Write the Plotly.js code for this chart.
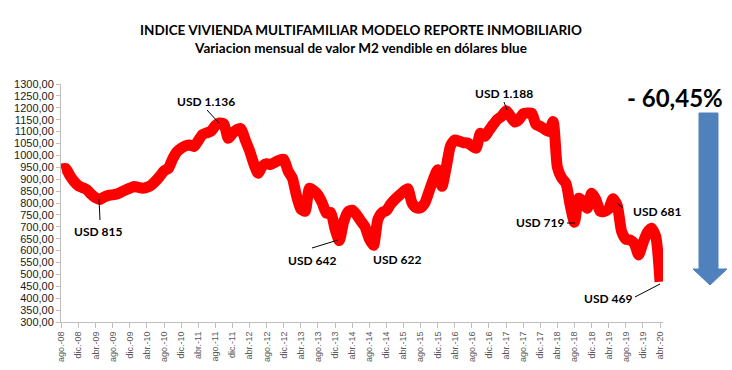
<!DOCTYPE html>
<html>
<head>
<meta charset="utf-8">
<script src="https://cdn.plot.ly/plotly-3.0.1.min.js"></script>
<style>
  html, body { margin: 0; padding: 0; background: #ffffff; }
  #chart { width: 732px; height: 370px; }
</style>
</head>
<body>
<div id="chart"></div>
<script>
// ---- data ----
const monthNames = ['ene.', 'feb.', 'mar.', 'abr.', 'may.', 'jun.', 'jul.', 'ago.', 'sep.', 'oct.', 'nov.', 'dic.'];
const startMonth = 7;   // ago.
const startYear = 2008;

// monthly value of M2 (USD blue), ago-08 .. abr-20
const values = [
  943, 945, 915, 890, 872, 864, 855, 836, 822, 815,
  825, 832, 834, 838, 846, 855, 862, 869, 866, 862,
  866, 875, 892, 912, 935, 945, 985, 1015, 1030, 1040,
  1044, 1037, 1062, 1088, 1095, 1102, 1125, 1136, 1132, 1072,
  1092, 1108, 1112, 1065, 1020, 965, 925, 955, 965, 962,
  972, 980, 984, 935, 905, 830, 775, 765, 862, 852,
  834, 800, 757, 760, 690, 642, 720, 763, 770, 752,
  725, 700, 650, 622, 730, 760, 768, 795, 815, 832,
  848, 860, 800, 780, 780, 800, 850, 900, 940, 870,
  950, 1040, 1065, 1060, 1054, 1052, 1040, 1030, 1093, 1080,
  1105, 1130, 1152, 1165, 1188, 1165, 1140, 1150, 1175, 1178,
  1177, 1130, 1122, 1110, 1100, 1142, 950, 905, 883, 790,
  719, 820, 806, 778, 841, 815, 765, 765, 775, 818,
  790, 681, 648, 645, 630, 582, 631, 675, 694, 660,
  469
];

const months = [];
for (let i = 0; i < values.length; i++) {
  const m = (startMonth + i) % 12;
  const y = startYear + Math.floor((startMonth + i) / 12);
  months.push(monthNames[m] + '-' + String(y % 100).padStart(2, '0'));
}
const tickLabels = months.filter((_, i) => i % 4 === 0);

const titleLine1 = 'INDICE VIVIENDA MULTIFAMILIAR MODELO REPORTE INMOBILIARIO';
const titleLine2 = 'Variacion mensual de valor M2 vendible en dólares blue';
const labelTexts = ['USD 1.136', 'USD 815', 'USD 642', 'USD 622', 'USD 1.188', 'USD 719', 'USD 681', 'USD 469'];
const changeText = '- 60,45%';

// ---- layout geometry (pixels) ----
const W = 732, H = 370;
const L = 61, R = 69, T = 84, B = 48;
const PW = W - L - R, PH = H - T - B;
const px = x => (x - L) / PW;
const py = y => (H - B - y) / PH;

const labelPos = [
  [206, 101], [98, 231], [312, 260], [397, 259],
  [504, 93], [540, 223], [657, 211], [608, 298]
];
const pointerLines = [
  [207, 110, 219, 123],
  [100, 220, 99, 199],
  [312, 248, 338, 240],
  null,
  [504, 102, 507, 110],
  [567, 223, 575, 223],
  [623, 208, 617, 203],
  [635, 297, 660, 284]
];

const annotations = labelTexts.map((t, i) => ({
  text: '<b>' + t + '</b>',
  xref: 'paper', yref: 'paper',
  x: px(labelPos[i][0]), y: py(labelPos[i][1]),
  xanchor: 'center', yanchor: 'middle',
  showarrow: false,
  font: { family: 'Lato, "Liberation Sans", sans-serif', size: 12, color: '#000000' }
}));
annotations.push({
  text: '<b>' + changeText + '</b>',
  xref: 'paper', yref: 'paper',
  x: px(675), y: py(97),
  xanchor: 'center', yanchor: 'middle',
  showarrow: false,
  font: { family: 'Lato, "Liberation Sans", sans-serif', size: 24, color: '#000000' }
});

const shapes = [];
pointerLines.forEach(l => {
  if (!l) return;
  shapes.push({
    type: 'line', xref: 'paper', yref: 'paper',
    x0: px(l[0]), y0: py(l[1]), x1: px(l[2]), y1: py(l[3]),
    line: { color: '#000000', width: 1 }
  });
});
// blue down arrow
const arrowPts = [[699, 113], [718, 113], [718, 269], [727, 269], [710, 285], [693, 269], [699, 269]];
shapes.push({
  type: 'path', xref: 'paper', yref: 'paper',
  path: 'M ' + arrowPts.map(p => px(p[0]) + ',' + py(p[1])).join(' L ') + ' Z',
  fillcolor: '#4F81BD',
  line: { color: '#4F81BD', width: 1 }
});

const trace = {
  type: 'scatter',
  mode: 'lines',
  x: months,
  y: values,
  line: { color: '#FF0000', width: 11, shape: 'spline', smoothing: 0.6 },
  cliponaxis: false,
  hoverinfo: 'x+y'
};

const layout = {
  width: W, height: H,
  margin: { l: L, r: R, t: T, b: B, pad: 0 },
  paper_bgcolor: '#ffffff',
  plot_bgcolor: '#ffffff',
  showlegend: false,
  separators: ',.',
  title: {
    text: '<b>' + titleLine1 + '</b><br><b>' + titleLine2 + '</b>',
    x: 361 / W, xanchor: 'center',
    y: 1 - 35 / H, yanchor: 'middle', yref: 'container',
    font: { family: 'Lato, "Liberation Sans", sans-serif', size: 13.5, color: '#000000' }
  },
  xaxis: {
    type: 'category',
    range: [-0.1, 140.7],
    tickmode: 'array',
    tickvals: tickLabels,
    ticktext: tickLabels,
    tickangle: -90,
    ticks: 'outside', ticklen: 5, tickcolor: '#bfbfbf', tickwidth: 1,
    showline: true, linecolor: '#bfbfbf', linewidth: 1,
    showgrid: false, zeroline: false,
    tickfont: { family: '"Liberation Sans", Arial, sans-serif', size: 9, color: '#595959' }
  },
  yaxis: {
    range: [300, 1300],
    dtick: 50,
    tick0: 300,
    tickformat: '.2f',
    ticks: 'outside', ticklen: 4, tickcolor: '#bfbfbf', tickwidth: 1,
    showline: true, linecolor: '#bfbfbf', linewidth: 1,
    showgrid: false, zeroline: false,
    tickfont: { family: '"Liberation Sans", Arial, sans-serif', size: 11, color: '#1a1a1a' }
  },
  annotations: annotations,
  shapes: shapes
};

Plotly.newPlot('chart', [trace], layout, { displayModeBar: false, staticPlot: true });
</script>
</body>
</html>
